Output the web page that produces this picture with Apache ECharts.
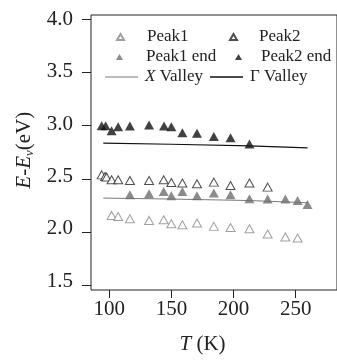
<!DOCTYPE html>
<html><head><meta charset="utf-8">
<script src="https://cdn.jsdelivr.net/npm/echarts@6/dist/echarts.min.js"></script>
<style>html,body{margin:0;padding:0;background:#fff}#c{width:337px;height:360px}</style>
</head><body><div id="c"></div>
<script>
// Data
var peak1T   = [101.9,107.2,116.7,132.2,144.0,150.2,159.1,170.9,184.5,198.0,213.3,228.0,242.3,252.2];
var peak1E   = [2.156,2.146,2.125,2.109,2.115,2.078,2.069,2.084,2.053,2.043,2.031,1.981,1.953,1.944];
var peak2T   = [93.9,96.6,97.9,101.9,107.2,116.7,132.2,144.0,150.2,159.1,170.9,184.5,198.0,213.3,228.0];
var peak2E   = [2.537,2.522,2.516,2.491,2.491,2.484,2.484,2.491,2.465,2.460,2.453,2.469,2.437,2.460,2.422];
var peak1EndT = [116.7,132.2,144.0,150.2,159.1,170.9,184.5,198.0,213.3,228.0,242.3,252.2,260.2];
var peak1EndE = [2.350,2.359,2.381,2.341,2.381,2.341,2.366,2.350,2.312,2.310,2.310,2.296,2.259];
var peak2EndT = [93.9,97.1,101.9,107.2,116.7,132.2,144.3,150.2,159.1,170.9,184.5,198.0,213.3];
var peak2EndE = [3.000,3.000,2.953,2.990,2.997,3.007,2.997,2.990,2.934,2.929,2.897,2.887,2.828];
var xValleyT = [95.2,150,213,260.2];
var xValleyE = [2.319,2.310,2.296,2.275];
var gValleyT = [95.2,150,213,260.2];
var gValleyE = [2.835,2.825,2.810,2.791];
var xTickMin = 100, xTickMax = 250, xTickStep = 50;
var yTickMin = 1.5, yTickMax = 4.0, yTickStep = 0.5;

function pairs(a,b){return a.map(function(v,i){return [v,b[i]];});}
var FONT = "'Liberation Serif','Times New Roman',serif";
var GRAY = '#7a7a7a', BLACK = '#111', AX = '#222';

function leg(name, left, top, w, h, pad, icon){
  var d = icon ? {name:name, icon:icon} : name;
  return {data:[d], left:left, top:top, itemWidth:w, itemHeight:h, padding:0, selectedMode:false,
    textStyle:{fontFamily:FONT, fontSize:17, color:'#222', lineHeight:18, padding:[0,0,0,pad],
      rich:{i:{fontFamily:FONT, fontSize:17, fontStyle:'italic', color:'#222', lineHeight:18}}},
    formatter: function(n){ return n==='X Valley' ? '{i|X} Valley' : n; }};
}
var OFF = {show:false};
function hidden(gi, min, max){ return {gridIndex:gi, type:'value', min:min, max:max, show:false}; }

var chart = echarts.init(document.getElementById('c'), null, {renderer:'canvas'});
chart.setOption({
  animation:false,
  grid:[
    // 0: data grid, frame from grid border (right edge just outside canvas)
    {left:91, right:-1, top:15, bottom:70, show:true, borderColor:AX, borderWidth:1, backgroundColor:'transparent'},
    // 1: tick-label grid
    {left:109.3, right:41.3, top:19.3, bottom:74.8},
    // 2: y tick marks strip (left of axis)
    {left:82, right:246, top:19.3, bottom:74.8},
    // 3: x tick marks strip (below axis)
    {left:109.3, right:41.3, top:290, bottom:62}
  ],
  legend:[
    leg('Peak1', 116, 28, 7, 6, 18),
    leg('Peak2', 229, 28, 7, 6, 17),
    leg('Peak1 end', 116, 48, 7, 6, 18),
    leg('Peak2 end', 235, 48, 7, 6, 14),
    leg('X Valley', 105, 68, 33, 1, 2, 'rect'),
    leg('Γ Valley', 210, 68, 33, 1.3, 2, 'rect')
  ],
  xAxis:[
    hidden(0, 85.27, 284.03),
    {
      gridIndex:1, type:'value', min:xTickMin, max:xTickMax, interval:xTickStep, position:'bottom', offset:4.8,
      axisLine:OFF, axisTick:OFF, splitLine:OFF,
      axisLabel:{margin:13, fontFamily:FONT, fontSize:21, color:'#222'},
      name:'{i|T} (K)', nameLocation:'middle', nameGap:48,
      nameTextStyle:{fontFamily:FONT, fontSize:21, color:'#222',
        rich:{i:{fontFamily:FONT, fontSize:21, fontStyle:'italic', color:'#222'}}}
    },
    hidden(2, 0, 1),
    {
      gridIndex:3, type:'value', min:xTickMin, max:xTickMax, interval:xTickStep,
      axisLine:OFF, axisTick:OFF, axisLabel:OFF,
      splitLine:{show:true, lineStyle:{color:AX, width:1}}
    }
  ],
  yAxis:[
    hidden(0, 1.455, 4.04),
    {
      gridIndex:1, type:'value', min:yTickMin, max:yTickMax, interval:yTickStep, position:'left', offset:18.3,
      axisLine:OFF, axisTick:OFF, splitLine:OFF,
      axisLabel:{margin:18, fontFamily:FONT, fontSize:21, color:'#222',
        formatter:function(v){return v.toFixed(1);}},
      name:'{i|E}-{i|E}{s|v}(eV)', nameLocation:'middle', nameGap:50,
      nameTextStyle:{fontFamily:FONT, fontSize:21, color:'#222',
        rich:{i:{fontFamily:FONT, fontSize:21, fontStyle:'italic', color:'#222'},
              s:{fontFamily:FONT, fontSize:13, fontStyle:'italic', color:'#222', padding:[10,0,0,0]}}}
    },
    {
      gridIndex:2, type:'value', min:yTickMin, max:yTickMax, interval:yTickStep,
      axisLine:OFF, axisTick:OFF, axisLabel:OFF,
      splitLine:{show:true, lineStyle:{color:AX, width:1}}
    },
    hidden(3, 0, 1)
  ],
  series:[
    {name:'X Valley', type:'line', xAxisIndex:0, yAxisIndex:0, data:pairs(xValleyT,xValleyE), symbol:'none',
      lineStyle:{color:GRAY, width:1}, itemStyle:{color:GRAY}, z:1},
    {name:'Γ Valley', type:'line', xAxisIndex:0, yAxisIndex:0, data:pairs(gValleyT,gValleyE), symbol:'none',
      lineStyle:{color:BLACK, width:1.2}, itemStyle:{color:BLACK}, z:1},
    {name:'Peak1', type:'scatter', xAxisIndex:0, yAxisIndex:0, data:pairs(peak1T,peak1E), symbol:'triangle', symbolSize:[9,8],
      itemStyle:{color:'#fff', borderColor:'#888', borderWidth:1}, z:3},
    {name:'Peak2', type:'scatter', xAxisIndex:0, yAxisIndex:0, data:pairs(peak2T,peak2E), symbol:'triangle', symbolSize:[9,8],
      itemStyle:{color:'#fff', borderColor:'#222', borderWidth:1}, z:3},
    {name:'Peak1 end', type:'scatter', xAxisIndex:0, yAxisIndex:0, data:pairs(peak1EndT,peak1EndE), symbol:'triangle', symbolSize:[10,9],
      itemStyle:{color:'#6e6e6e'}, z:3},
    {name:'Peak2 end', type:'scatter', xAxisIndex:0, yAxisIndex:0, data:pairs(peak2EndT,peak2EndE), symbol:'triangle', symbolSize:[10,9],
      itemStyle:{color:BLACK}, z:3}
  ]
});
</script></body></html>
